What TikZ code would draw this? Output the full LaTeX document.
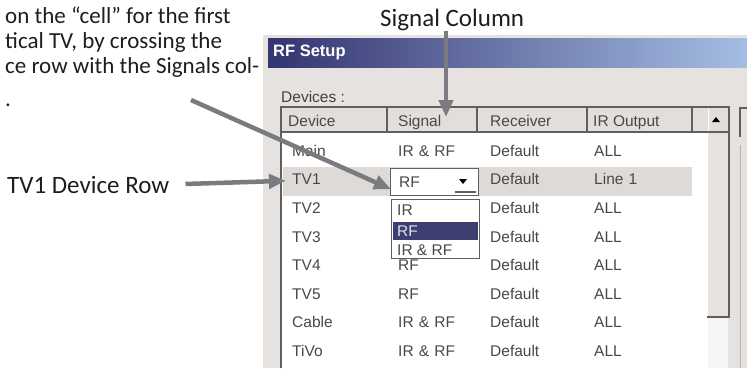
\documentclass[tikz,border=0pt]{standalone}
\usepackage{fontspec}
\setmainfont{Carlito}
\newfontfamily\scrfont{Liberation Sans}
\usetikzlibrary{matrix,positioning,arrows.meta}

\definecolor{winbg}{RGB}{230,226,223}
\definecolor{titledark}{RGB}{52,52,112}
\definecolor{titlelight}{RGB}{165,190,228}
\definecolor{hdrbg}{RGB}{226,222,219}
\definecolor{rowsel}{RGB}{222,218,215}
\definecolor{pick}{RGB}{62,62,112}
\definecolor{scrtxt}{RGB}{72,72,72}
\definecolor{calloutgray}{RGB}{122,122,128}
\definecolor{notetxt}{RGB}{30,30,30}
\definecolor{edge}{RGB}{95,95,95}

\tikzset{
  note/.style={font=\fontsize{23}{25}\selectfont, text=notetxt, inner sep=0pt, anchor=base west},
  caption/.style={note, font=\fontsize{25}{27}\selectfont},
  scr/.style={font=\scrfont\fontsize{15.5}{16}\selectfont, text=scrtxt, inner sep=0pt},
  rowcell/.style={scr, anchor=base, align=left, minimum height=28.6pt, text height=11pt, text depth=3pt},
  boxed/.style={draw=edge, fill=white, line width=1.2pt, inner sep=0pt, anchor=north west},
  callout/.style={draw=calloutgray, line width=4.5pt, -{Triangle[length=17pt,width=14pt]}},
}

\begin{document}
\begin{tikzpicture}[x=1pt, y=-1pt]
\useasboundingbox (0,0) rectangle (747,368);

% the dialog window
\fill[winbg] (263,35) rectangle (747,368);
\shade[left color=titledark, right color=titlelight] (268,38) rectangle (747,67);
\node[scr, font=\scrfont\bfseries\fontsize{16.5}{17}\selectfont, text=white, anchor=west] (title) at (273,52) {RF Setup};
\node[scr, anchor=west, text=black!75] (devlabel) at (281,97) {Devices :};

% list box, header and scroll bar
\fill[white] (282,108) rectangle (708,368);
\fill[hdrbg] (282,108) rectangle (728,132);
\fill[winbg] (708,132) rectangle (728,317);
\fill[black!4] (708,317) rectangle (728,368);
\draw[edge, line width=1.5pt] (281,368) -- (281,107) -- (729,107) -- (729,317) -- (707,317);
\draw[edge, line width=1.2pt] (387,108) -- (387,132) (477,108) -- (477,132)
    (587,108) -- (587,132) (692,108) -- (692,132) (282,132) -- (728,132);
\draw[white, line width=1pt] (708,109) -- (708,131);
\fill[black] (712,122) -- (720,122) -- (716,117) -- cycle;
\node[scr, anchor=base west] (hdev) at (288,126) {Device};
\node[scr, anchor=base west] (hsig) at (398,126) {Signal};
\node[scr, anchor=base west] (hrec) at (490,126) {Receiver};
\node[scr, anchor=base west] (hout) at (593,126) {IR Output};

% button at the right edge
\draw[edge, line width=1.2pt] (747,108) -- (740,108) -- (740,137);
\draw[black!30] (740,145) -- (740,368);

% the rows, TV1 selected
\fill[rowsel] (283,167) rectangle (692,196);
\matrix (list) [matrix of nodes, anchor=north west, inner sep=0pt, row sep=0pt, column sep=0pt,
    nodes={rowcell},
    column 1/.style={nodes={text width=106pt}},
    column 2/.style={nodes={text width=92pt}},
    column 3/.style={nodes={text width=104pt}},
    column 4/.style={nodes={text width=80pt}}] at (292,137.7) {
    Main  & IR \& RF & Default & ALL \\
    TV1   &          & Default & Line 1 \\
    TV2   &          & Default & ALL \\
    TV3   &          & Default & ALL \\
    TV4   & RF       & Default & ALL \\
    TV5   & RF       & Default & ALL \\
    Cable & IR \& RF & Default & ALL \\
    TiVo  & IR \& RF & Default & ALL \\};

% open combo box in the Signal cell
\node[boxed, minimum width=88pt, minimum height=27pt] (combo) at (390,168) {};
\node[scr, anchor=west] (combotext) at ([xshift=9pt]combo.west) {RF};
\fill[black] (459,179) -- (467,179) -- (463,184) -- cycle;
\draw[edge, line width=1.2pt] (455,192) -- (476,192);

\node[boxed, minimum width=88pt, minimum height=59pt] (ddlist) at (391,199) {};
\fill[pick] (393,222) rectangle (478,240);
\node[scr, anchor=west] (optir) at (397,210) {IR};
\node[scr, anchor=west, text=white!85!pick] (optrf) at (397,231) {RF};
\node[scr, anchor=west] (optboth) at (397,250) {IR \& RF};

% callouts
\node[note] (para1) at (5,23) {on the “cell” for the first};
\node[note] (para2) at (5,48) {tical TV, by crossing the};
\node[note] (para3) at (5,73) {ce row with the Signals col-};
\node[note] (para4) at (5,106) {.};
\node[caption] (colcap) at (380,26) {Signal Column};
\node[caption] (rowcap) at (7,193) {TV1 Device Row};

\coordinate (sigtip) at (446,117);
\coordinate (celltail) at (191,100);
\draw[callout] (colcap.south -| sigtip) -- (sigtip);
\draw[callout, shorten <=16pt] (rowcap.east) -- ([xshift=-6pt]list-2-1.west);
\draw[callout] (celltail) -- ([shift={(1pt,7pt)}]combo.south west);

\end{tikzpicture}
\end{document}
